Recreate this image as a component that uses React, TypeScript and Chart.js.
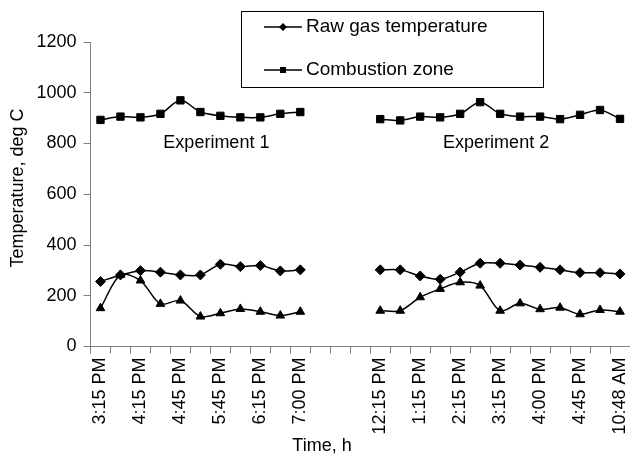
import React, { useEffect, useRef } from "react";
import { Chart, registerables } from "chart.js";

Chart.register(...registerables);

const categories: string[] = [
  "3:15 PM", "", "4:15 PM", "", "4:45 PM", "", "5:45 PM", "", "6:15 PM", "", "7:00 PM",
  "", "", "",
  "12:15 PM", "", "1:15 PM", "", "2:15 PM", "", "3:15 PM", "", "4:00 PM", "", "4:45 PM", "", "10:48 AM",
];

const rawGas: (number | null)[] = [
  256, 282, 299, 293, 282, 282, 324, 315, 319, 298, 302,
  null, null, null,
  302, 302, 278, 265, 293, 328, 328, 321, 312, 302, 291, 291, 286,
];

const combustion: (number | null)[] = [
  893, 906, 903, 917, 970, 924, 909, 903, 903, 917, 924,
  null, null, null,
  896, 891, 906, 903, 917, 963, 917, 906, 906, 896, 913, 932, 897,
];

const thirdSeries: (number | null)[] = [
  151, 282, 260, 168, 181, 118, 131, 148, 137, 122, 137,
  null, null, null,
  141, 141, 194, 227, 253, 240, 141, 170, 147, 153, 127, 144, 137,
];

const yTicks = { min: 0, max: 1200, step: 200 };
const legendNames = ["Raw gas temperature", "Combustion zone"];
const annotations = [
  { text: "Experiment 1", cat: 5.8, value: 800 },
  { text: "Experiment 2", cat: 19.8, value: 800 },
];
const xTitle = "Time, h";
const yTitle = "Temperature, deg C";

const FONT = "'Liberation Sans', Arial, sans-serif";
const FS = 18;

const zeroPad = (s: any) => {
  s.paddingLeft = 0;
  s.paddingRight = 0;
  s.paddingTop = 0;
  s.paddingBottom = 0;
};

const overlayPlugin = {
  id: "overlay",
  afterDraw(chart: any) {
    const ctx = chart.ctx as CanvasRenderingContext2D;
    const xs = chart.scales.x;
    const ys = chart.scales.y;
    ctx.save();
    ctx.font = `${FS}px ${FONT}`;
    ctx.fillStyle = "#000";
    ctx.textBaseline = "middle";
    ctx.textAlign = "center";
    for (const a of annotations) {
      const x0 = xs.getPixelForValue(Math.floor(a.cat));
      const x1 = xs.getPixelForValue(Math.ceil(a.cat));
      const x = x0 + (x1 - x0) * (a.cat - Math.floor(a.cat));
      ctx.fillText(a.text, x, ys.getPixelForValue(a.value));
    }
    // x axis title
    ctx.fillText(xTitle, 322, 446);

    // y axis title
    ctx.save();
    ctx.translate(18, 188);
    ctx.rotate(-Math.PI / 2);
    ctx.fillText(yTitle, 0, 0);
    ctx.restore();

    // legend box
    const bx = 241.5, by = 11.5, bw = 302, bh = 76;
    ctx.fillStyle = "#fff";
    ctx.fillRect(bx, by, bw, bh);
    ctx.strokeStyle = "#000";
    ctx.lineWidth = 1;
    ctx.strokeRect(bx, by, bw, bh);
    const rows = [27, 70];
    const styles = ["rectRot", "rect"];
    ctx.font = `19px ${FONT}`;
    rows.forEach((ry, i) => {
      ctx.beginPath();
      ctx.strokeStyle = "#000";
      ctx.lineWidth = 1.5;
      ctx.moveTo(264, ry);
      ctx.lineTo(302, ry);
      ctx.stroke();
      ctx.fillStyle = "#000";
      ctx.beginPath();
      if (styles[i] === "rectRot") {
        const r = 4;
        ctx.moveTo(283 - r, ry);
        ctx.lineTo(283, ry - r);
        ctx.lineTo(283 + r, ry);
        ctx.lineTo(283, ry + r);
        ctx.closePath();
      } else {
        ctx.rect(280, ry - 3, 6, 6);
      }
      ctx.fill();
      ctx.textAlign = "left";
      ctx.fillText(legendNames[i], 306, ry);
    });
    ctx.restore();
  },
};

export default function App() {
  const ref = useRef<HTMLCanvasElement | null>(null);
  useEffect(() => {
    document.body.style.margin = "0";
    if (!ref.current) return;
    const common = {
      borderColor: "#000",
      backgroundColor: "#000",
      pointBackgroundColor: "#000",
      pointBorderColor: "#000",
      borderWidth: 1.5,
      pointBorderWidth: 1,
      tension: 0.3,
      spanGaps: false,
    };
    const chart = new Chart(ref.current, {
      type: "line",
      data: {
        labels: categories,
        datasets: [
          { label: legendNames[0], data: rawGas, pointStyle: "rectRot", pointRadius: 5, ...common },
          { label: legendNames[1], data: combustion, pointStyle: "rect", pointRadius: 5.2, ...common },
          { label: "", data: thirdSeries, pointStyle: "triangle", pointRadius: 5, ...common },
        ],
      },
      options: {
        animation: false,
        responsive: false,
        maintainAspectRatio: false,
        layout: { autoPadding: false, padding: { top: 42, right: 0, left: 0, bottom: 0 } },
        plugins: {
          legend: { display: false },
          tooltip: { enabled: false },
        },
        scales: {
          x: {
            type: "category",
            offset: true,
            grid: {
              offset: true,
              drawOnChartArea: false,
              drawTicks: true,
              tickLength: 7,
              color: "#808080",
            },
            border: { color: "#808080", width: 1 },
            ticks: {
              autoSkip: false,
              maxRotation: 90,
              minRotation: 90,
              padding: 4,
              color: "#000",
              font: { family: FONT, size: FS, lineHeight: 1 },
            },
            afterFit: (s: any) => {
              s.height = 107.5;
              zeroPad(s);
            },
          },
          y: {
            min: yTicks.min,
            max: yTicks.max,
            grid: {
              drawOnChartArea: false,
              drawTicks: true,
              tickLength: 7,
              color: "#808080",
            },
            border: { color: "#808080", width: 1 },
            ticks: {
              stepSize: yTicks.step,
              padding: 7,
              color: "#000",
              font: { family: FONT, size: FS },
              callback: (v: any) => String(v),
            },
            afterFit: (s: any) => {
              s.width = 90.5;
              zeroPad(s);
            },
          },
        },
      },
      plugins: [overlayPlugin],
    });
    return () => chart.destroy();
  }, []);
  return (
    <div style={{ width: 630, height: 454, background: "#fff" }}>
      <canvas ref={ref} width={630} height={454} style={{ display: "block" }} />
    </div>
  );
}
